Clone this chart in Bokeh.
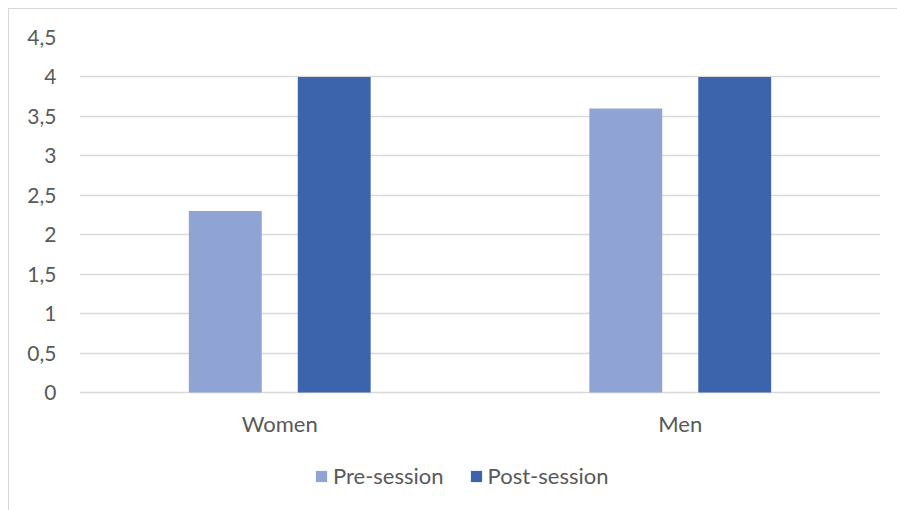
from bokeh.plotting import figure
from bokeh.models import ColumnDataSource, FactorRange, Range1d, FixedTicker, Legend, LegendItem
from bokeh.core.properties import value
from bokeh.transform import dodge
from bokeh.embed import file_html
from bokeh.resources import INLINE

categories = ["Women", "Men"]
pre_session = [2.3, 3.6]
post_session = [4.0, 4.0]
y_ticks = [0, 0.5, 1, 1.5, 2, 2.5, 3, 3.5, 4, 4.5]
y_tick_labels = ["0", "0,5", "1", "1,5", "2", "2,5", "3", "3,5", "4", "4,5"]

src = ColumnDataSource(dict(cat=categories, pre=pre_session, post=post_session,
                            base=[0] * len(categories)))

FONT = "Lato"
TXT = "#595959"
GRID = "#D9D9D9"

# frame spans from the 4,5 line (28 px from top) to the bottom of the figure;
# the value axis keeps its scale of 355 px for 4.5 units
PX_PER_UNIT = 355 / 4.5
y_low = -(502 - 28 - 355) / PX_PER_UNIT

p = figure(width=889, height=502, x_range=FactorRange(*categories, range_padding=0),
           y_range=Range1d(y_low, 4.5), output_backend="svg", toolbar_location=None,
           min_border_left=70, min_border_right=18, min_border_top=28, min_border_bottom=0,
           margin=(8, 0, 0, 8),
           styles={"border-top": "1px solid #D9D9D9", "border-left": "1px solid #D9D9D9"})
p.outline_line_color = None
p.xaxis.visible = False

r1 = p.vbar(x=dodge("cat", -0.136, range=p.x_range), top="pre", width=0.182, source=src,
            fill_color="#8FA4D4", line_color=None)
r2 = p.vbar(x=dodge("cat", 0.136, range=p.x_range), top="post", width=0.182, source=src,
            fill_color="#3C64AC", line_color=None)

p.text(x="cat", y="base", text="cat", source=src, y_offset=31,
       text_font=value(FONT), text_font_size="22px", text_color=TXT,
       text_align="center", text_baseline="middle")

p.yaxis.ticker = FixedTicker(ticks=y_ticks)
p.yaxis.major_label_overrides = {t: s for t, s in zip(y_ticks, y_tick_labels)}
p.yaxis.axis_line_color = None
p.yaxis.major_tick_line_color = None
p.yaxis.minor_tick_line_color = None
p.yaxis.major_label_standoff = 17
p.yaxis.major_label_text_font = FONT
p.yaxis.major_label_text_font_size = "21px"
p.yaxis.major_label_text_color = TXT
p.ygrid.ticker = FixedTicker(ticks=y_ticks)
p.ygrid.grid_line_color = GRID
p.ygrid.grid_line_width = 1.5
p.xgrid.grid_line_color = None

legend = Legend(items=[LegendItem(label="Pre-session", renderers=[r1]),
                       LegendItem(label="Post-session", renderers=[r2])],
                orientation="horizontal", location=(235, 22),
                glyph_width=14, glyph_height=14, label_standoff=5, spacing=25,
                label_text_font=FONT, label_text_font_size="22px", label_text_color=TXT,
                border_line_color=None, background_fill_alpha=0, margin=0, padding=0)
p.add_layout(legend, "center")

open("out.html", "w").write(file_html(p, INLINE))
